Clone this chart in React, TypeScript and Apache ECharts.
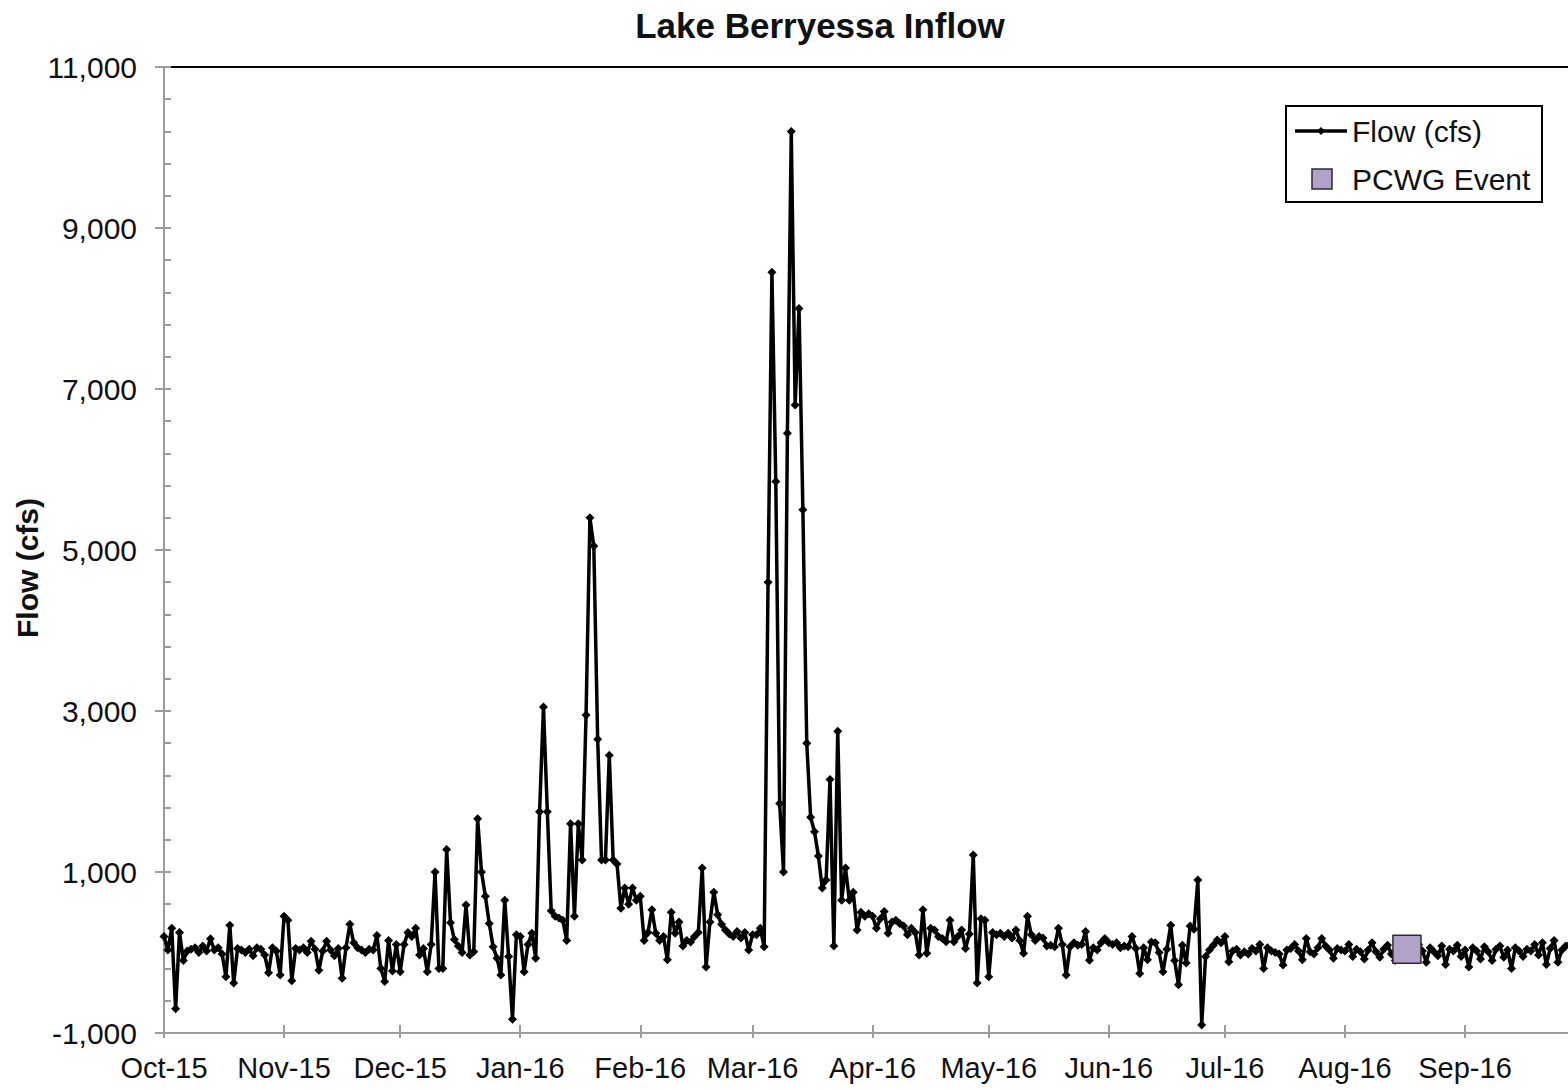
import React, { useEffect, useRef } from "react";
import * as echarts from "echarts";

// ---- Data (daily inflow, cfs, Oct 1 2015 - Sep 2016) ----
const monthLabels = ["Oct-15", "Nov-15", "Dec-15", "Jan-16", "Feb-16", "Mar-16", "Apr-16", "May-16", "Jun-16", "Jul-16", "Aug-16", "Sep-16"];
const monthDays = [31, 30, 31, 31, 29, 31, 30, 31, 30, 31, 31, 30];

const flowOct = [200, 30, 300, -700, 250, -100, 20, 40, 60, 0, 80, 20, 170, 30, 60, -20, -300, 340, -380, 50, 30, 0, 40, -40, 60, 40, -30, -250, 60, 20, -280];
const flowNov = [450, 400, -350, 50, 30, 60, 0, 140, 40, -220, 20, 140, 30, -40, 50, -320, 60, 350, 120, 60, 30, 0, 40, 30, 210, -200, -360, 150, -230, 100];
const flowDec = [-240, 100, 250, 200, 300, -30, 50, -240, 100, 1000, -200, -200, 1280, 370, 160, 80, 0, 590, -30, 10, 1660, 1000, 700, 360, 70, -70, -280, 650, -50, -830, 220];
const flowJan = [200, -240, 100, 240, -70, 1750, 3050, 1750, 520, 450, 430, 400, 150, 1600, 450, 1600, 1150, 2950, 5400, 5050, 2650, 1150, 1150, 2450, 1150, 1100, 550, 800, 600, 800, 650];
const flowFeb = [700, 150, 250, 530, 240, 150, 200, -90, 500, 240, 380, 80, 150, 130, 200, 250, 1050, -180, 380, 750, 470, 350, 280, 230, 200, 260, 180, 250, 30];
const flowMar = [220, 220, 300, 70, 4600, 8450, 5850, 1850, 1000, 6450, 10200, 6800, 8000, 5500, 2600, 1680, 1500, 1200, 800, 900, 2150, 80, 2750, 650, 1050, 650, 750, 280, 500, 450, 480];
const flowApr = [450, 300, 420, 510, 240, 380, 400, 360, 330, 220, 300, 250, -30, 530, -10, 300, 280, 200, 175, 135, 400, 135, 200, 280, 50, 230, 1210, -380, 420, 400];
const flowMay = [-300, 250, 220, 240, 200, 240, 180, 280, 150, -10, 450, 220, 150, 200, 180, 80, 90, 70, 300, 100, -280, 70, 120, 90, 100, 260, -95, 60, 30, 120, 175];
const flowJun = [120, 100, 120, 60, 80, 70, 200, 50, -260, 60, -90, 130, 120, 0, -240, 40, 340, -100, -400, 90, -130, 330, 290, 900, -900, -50, 30, 90, 155, 120];
const flowJul = [200, -115, 20, 40, -30, 10, -20, 50, 20, 100, -200, 60, 20, 0, -20, -155, 30, 50, 100, 20, -90, 175, 10, -20, 60, 175, 80, 30, -70, 50, 30];
const flowAug = [20, 100, -50, 40, 10, -80, 30, 120, 10, -60, 40, 90, -20, -100, 60, 20, 50, 30, -80, 100, 20, -120, 60, 10, -40, 80, -150, 40, 20, 90, -50];
const flowSep = [30, -180, 60, 20, -80, 70, 10, -100, 40, 80, -60, 30, -200, 60, 20, -50, 40, 20, 100, -30, 120, -150, 50, 150, -120, 30, 80, 120];

// PCWG event: Aug 17, 2016
const eventMonthIndex = 10;
const eventDayOfMonth = 17;
const eventFlow = 40;

const yTickValues = [-1000, 1000, 3000, 5000, 7000, 9000, 11000];
const yMinorStep = 400;

export default function App() {
  const ref = useRef<HTMLDivElement>(null);

  useEffect(() => {
    if (!ref.current) return;
    const chart = echarts.init(ref.current, null, { renderer: "svg" });

    const monthStarts: number[] = [];
    let acc = 0;
    for (const d of monthDays) {
      monthStarts.push(acc);
      acc += d;
    }
    const flows = [
      ...flowOct, ...flowNov, ...flowDec, ...flowJan, ...flowFeb, ...flowMar,
      ...flowApr, ...flowMay, ...flowJun, ...flowJul, ...flowAug, ...flowSep,
    ];
    const lineData = flows.map((v, i) => [i, v]);
    const eventIdx = monthStarts[eventMonthIndex] + eventDayOfMonth - 1;

    const xMin = 0;
    const xMax = 362.6;
    const yMin = -1000;
    const yMax = 11000;
    const minorTicks: number[] = [];
    for (let v = yMin; v <= yMax; v += yMinorStep) minorTicks.push(v);

    const font = "'Liberation Sans', Arial, sans-serif";
    const labelMap: Record<number, string> = {};
    monthStarts.forEach((s, i) => (labelMap[s] = monthLabels[i]));

    const grayAxis = "#9c9c9c";

    chart.setOption({
      animation: false,
      backgroundColor: "#ffffff",
      grid: { left: 164, right: 0, top: 67, bottom: 57, containLabel: false },
      xAxis: [
        {
          type: "value",
          min: xMin,
          max: xMax,
          position: "bottom",
          axisLine: { show: true, onZero: false, lineStyle: { color: grayAxis, width: 2 } },
          axisTick: { show: true, inside: true, length: 8, customValues: monthStarts, lineStyle: { color: grayAxis, width: 2 } },
          axisLabel: {
            show: true,
            customValues: monthStarts,
            formatter: (v: number) => labelMap[v] ?? "",
            fontSize: 29,
            fontFamily: font,
            color: "#111",
            margin: 20,
          },
          splitLine: { show: false },
        },
        {
          type: "value",
          min: xMin,
          max: xMax,
          position: "bottom",
          axisLine: { show: false, onZero: false },
          axisTick: { show: true, inside: false, length: 5, customValues: monthStarts, lineStyle: { color: grayAxis, width: 2 } },
          axisLabel: { show: false },
          splitLine: { show: false },
        },
        {
          type: "value",
          min: xMin,
          max: xMax,
          position: "top",
          axisLine: { show: true, onZero: false, lineStyle: { color: "#000", width: 2 } },
          axisTick: { show: false },
          axisLabel: { show: false },
          splitLine: { show: false },
        },
      ],
      yAxis: [
        {
          type: "value",
          min: yMin,
          max: yMax,
          position: "left",
          axisLine: { show: true, onZero: false, lineStyle: { color: grayAxis, width: 2 } },
          axisTick: { show: true, inside: true, length: 7, customValues: minorTicks, lineStyle: { color: grayAxis, width: 2 } },
          axisLabel: {
            show: true,
            customValues: yTickValues,
            formatter: (v: number) => v.toLocaleString("en-US"),
            fontSize: 30,
            fontFamily: font,
            color: "#111",
            margin: 27,
          },
          splitLine: { show: false },
        },
        {
          type: "value",
          min: yMin,
          max: yMax,
          position: "left",
          axisLine: { show: false, onZero: false },
          axisTick: { show: true, inside: false, length: 9, customValues: yTickValues, lineStyle: { color: grayAxis, width: 2 } },
          axisLabel: { show: false },
          splitLine: { show: false },
        },
      ],
      series: [
        {
          name: "Flow (cfs)",
          type: "line",
          data: lineData,
          xAxisIndex: 0,
          yAxisIndex: 0,
          symbol: "diamond",
          symbolSize: 9,
          showAllSymbol: true,
          lineStyle: { color: "#000", width: 3.5 },
          itemStyle: { color: "#000" },
          clip: true,
          z: 2,
        },
        {
          name: "PCWG Event",
          type: "scatter",
          data: [[eventIdx, eventFlow]],
          xAxisIndex: 0,
          yAxisIndex: 0,
          symbol: "rect",
          symbolSize: 28,
          itemStyle: { color: "#b3a2c7", borderColor: "#2b2b3a", borderWidth: 1.5, opacity: 1 },
          z: 5,
        },
      ],
      graphic: [
        {
          type: "text",
          x: 820,
          y: 25,
          style: {
            text: "Lake Berryessa Inflow",
            font: `bold 35px ${font}`,
            fill: "#111",
            align: "center",
            verticalAlign: "middle",
          },
        },
        {
          type: "text",
          x: 27,
          y: 568,
          rotation: Math.PI / 2,
          style: {
            text: "Flow (cfs)",
            font: `bold 30px ${font}`,
            fill: "#111",
            align: "center",
            verticalAlign: "middle",
          },
        },
        {
          type: "group",
          children: [
            {
              type: "rect",
              shape: { x: 1286, y: 106, width: 256, height: 96 },
              style: { fill: "#fff", stroke: "#000", lineWidth: 2 },
            },
            {
              type: "line",
              shape: { x1: 1295, y1: 131, x2: 1347, y2: 131 },
              style: { stroke: "#000", lineWidth: 3.5 },
            },
            {
              type: "polygon",
              shape: { points: [[1321, 127], [1325, 131], [1321, 135], [1317, 131]] },
              style: { fill: "#000" },
            },
            {
              type: "text",
              x: 1352,
              y: 131,
              style: { text: "Flow (cfs)", font: `30px ${font}`, fill: "#111", verticalAlign: "middle" },
            },
            {
              type: "rect",
              shape: { x: 1312, y: 169, width: 20, height: 20 },
              style: { fill: "#b3a2c7", stroke: "#2b2b3a", lineWidth: 1.5 },
            },
            {
              type: "text",
              x: 1352,
              y: 179,
              style: { text: "PCWG Event", font: `30px ${font}`, fill: "#111", verticalAlign: "middle" },
            },
          ],
        },
      ],
    });

    return () => chart.dispose();
  }, []);

  return (
    <div
      ref={ref}
      style={{ position: "fixed", left: 0, top: 0, width: 1568, height: 1090, background: "#fff" }}
    />
  );
}
